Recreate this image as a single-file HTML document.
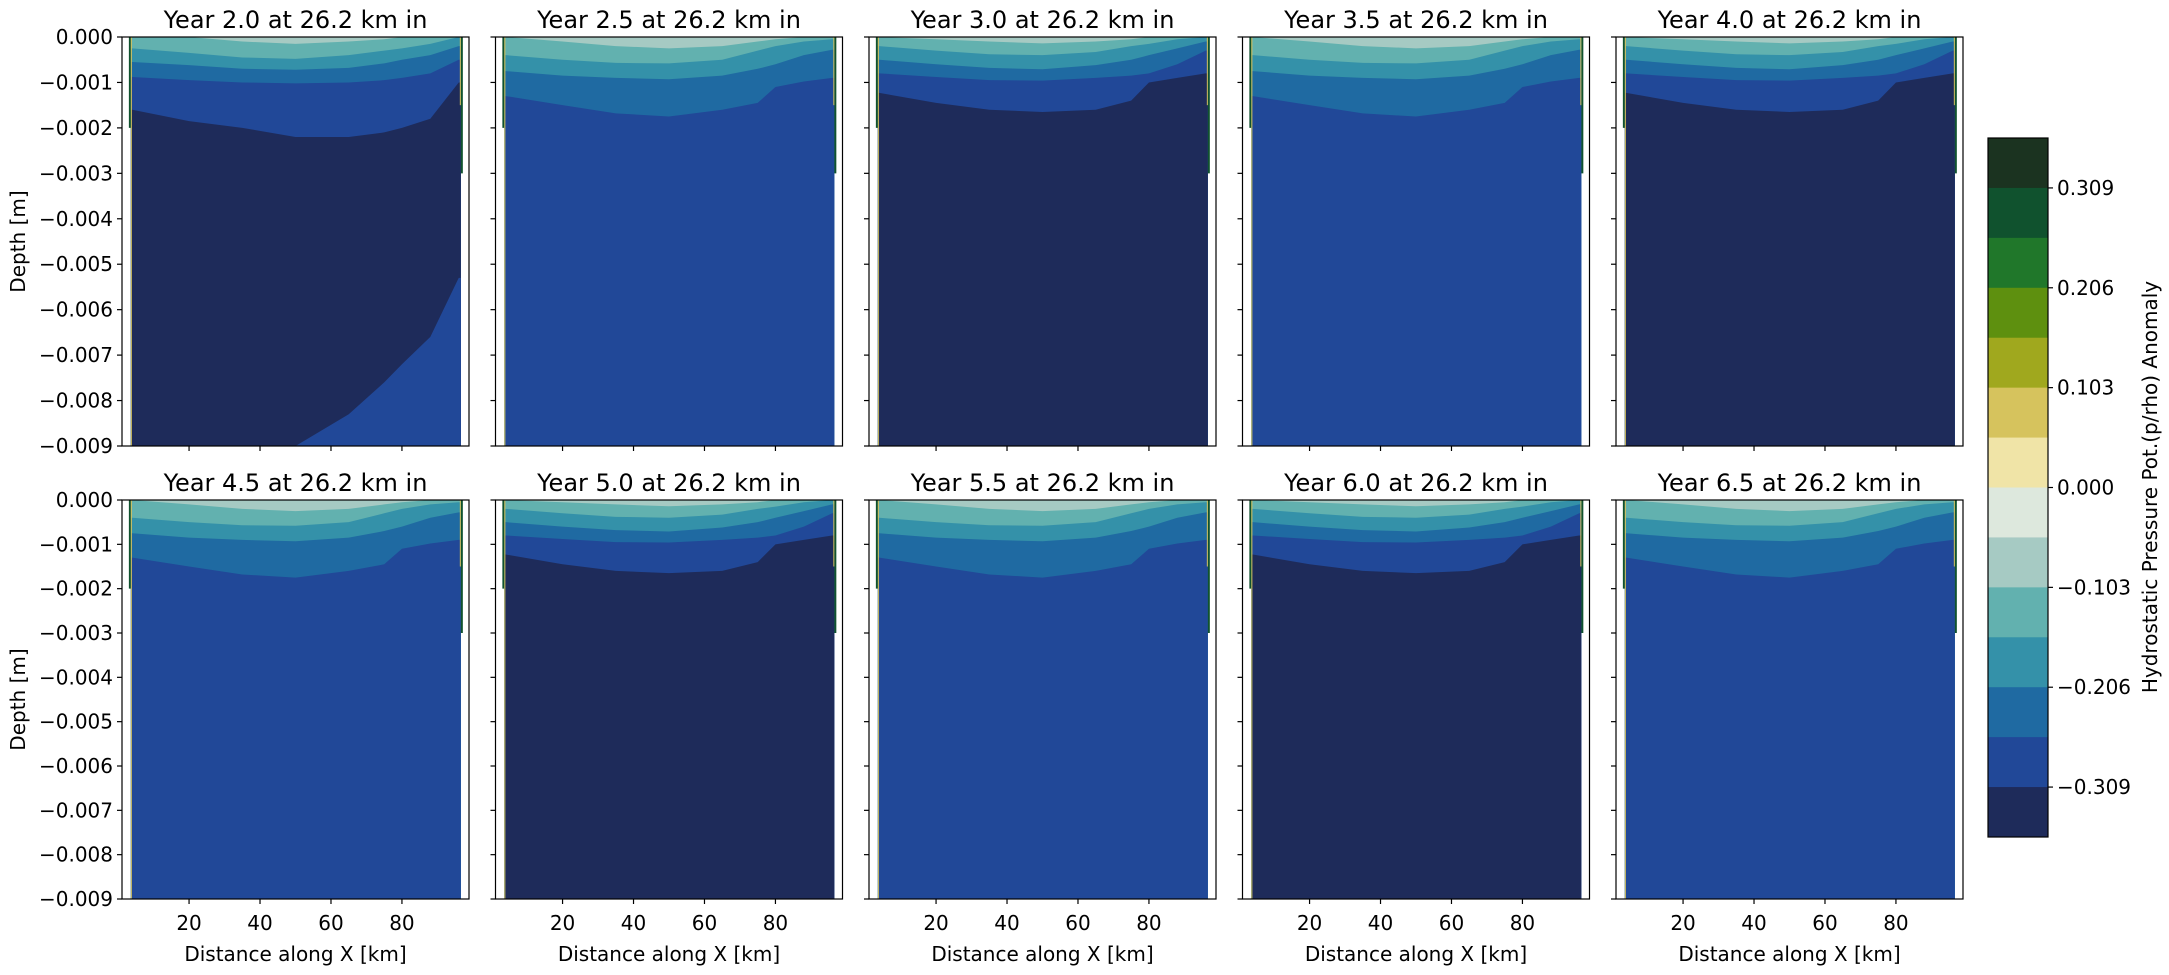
<!DOCTYPE html>
<html><head><meta charset="utf-8"><style>
html,body{margin:0;padding:0;background:#fff;}
svg{display:block;font-family:"DejaVu Sans","Liberation Sans",sans-serif;}
</style></head><body>
<svg id="fig" width="2169" height="975" viewBox="0 0 2169 975" xmlns="http://www.w3.org/2000/svg"></svg>
<script>
// ---- data ----
const years = ["2.0","2.5","3.0","3.5","4.0","4.5","5.0","5.5","6.0","6.5"];
const panelKind = ["y20","blue","dark","blue","dark","blue","dark","blue","dark","blue"];
const xSamples = [4, 20, 35, 50, 65, 75, 80, 88, 96];
const blueB1 = [0, 0.0001, 0.0002, 0.00025, 0.0002, 0.0001, 0.00005, 0, 0];
const blueB2 = [0.0004, 0.0005, 0.00057, 0.00058, 0.0005, 0.0003, 0.0002, 0.0001, 0.00005];
const blueB3 = [0.00075, 0.00085, 0.0009, 0.00093, 0.00085, 0.0007, 0.0006, 0.0004, 0.00028];
const blueB4 = [0.0013, 0.0015, 0.00168, 0.00175, 0.0016, 0.00145, 0.0011, 0.00098, 0.0009];
const darkB1 = [0, 0.00005, 0.0001, 0.00014, 0.0001, 0.00005, 0, 0, 0];
const darkB2 = [0.0002, 0.0003, 0.00038, 0.0004, 0.00033, 0.0002, 0.00015, 0.00005, 0];
const darkB3 = [0.0005, 0.0006, 0.00068, 0.00071, 0.00062, 0.0005, 0.0004, 0.00025, 0.0001];
const darkB4 = [0.0008, 0.00088, 0.00095, 0.00096, 0.0009, 0.00085, 0.0008, 0.0006, 0.0003];
const darkB5 = [0.00123, 0.00145, 0.0016, 0.00165, 0.0016, 0.0014, 0.001, 0.0009, 0.0008];
const y20B1 = [0, 0, 0.0001, 0.00015, 0.0001, 0.00005, 0, 0, 0];
const y20B2 = [0.00025, 0.00035, 0.00045, 0.00048, 0.0004, 0.0003, 0.00025, 0.00015, 0];
const y20B3 = [0.00055, 0.00062, 0.0007, 0.00072, 0.00068, 0.00058, 0.0005, 0.0004, 0.0002];
const y20B4 = [0.00088, 0.00095, 0.001, 0.00102, 0.001, 0.00095, 0.0009, 0.0008, 0.0005];
const y20B5 = [0.0016, 0.00185, 0.002, 0.0022, 0.0022, 0.0021, 0.002, 0.0018, 0.001];
const y20B6 = [0.0096, 0.0096, 0.0096, 0.0091, 0.0083, 0.0076, 0.0072, 0.0066, 0.0053];
const yTicks = [0, -0.001, -0.002, -0.003, -0.004, -0.005, -0.006, -0.007, -0.008, -0.009];
const xTicks = [20, 40, 60, 80];
const cbColors = ["#1b3320","#10522e","#20772a","#5e900f","#a0a81e","#d6c35d","#f0e4a7","#dde8dd","#a6cac3","#62b1af","#3491a9","#1f6aa2","#214898","#1e2b5a"];
const cbTicks = ["0.309","0.206","0.103","0.000","\u22120.103","\u22120.206","\u22120.309"];

const NS="http://www.w3.org/2000/svg";
const svg=document.getElementById('fig');
function mk(tag,attrs,parent){const e=document.createElementNS(NS,tag);for(const k in attrs)e.setAttribute(k,attrs[k]);(parent||svg).appendChild(e);return e;}

const lefts=[122,495.5,869,1242.5,1616], W=347;
const tops=[37,500], H=[409,399];
const xMin=1.1, xMax=98.9, dMax=0.009;
const layerColors=["#a6cac3","#62b1af","#3491a9","#1f6aa2","#214898","#1e2b5a"];
const sets={blue:[blueB1,blueB2,blueB3,blueB4],dark:[darkB1,darkB2,darkB3,darkB4,darkB5],y20:[y20B1,y20B2,y20B3,y20B4,y20B5]};

years.forEach((yr,i)=>{
  const r=Math.floor(i/5), c=i%5;
  const L=lefts[c], T=tops[r], h=H[r];
  const sx=v=>L+(v-xMin)/(xMax-xMin)*W;
  const sy=d=>T+Math.min(d,dMax)/dMax*h;
  const g=mk('g',{});
  
  
  const x0=3.6,x1=96.6;
  const bg=mk('rect',{x:sx(x0),y:T,width:sx(x1)-sx(x0),height:h,fill:layerColors[0]},g);
  
  
  const bs=sets[panelKind[i]];
  bs.forEach((b,k)=>{
    let pts=[[sx(x0),sy(b[0])]];
    xSamples.forEach((xv,j)=>pts.push([sx(xv),sy(b[j])]));
    pts.push([sx(x1),sy(b[b.length-1])],[sx(x1),T+h],[sx(x0),T+h]);
    const p=mk('polygon',{points:pts.map(q=>q.join(',')).join(' '),fill:layerColors[k+1]},g);
    
    
  });
  if(panelKind[i]==='y20'){
    let pts=xSamples.map((xv,j)=>[sx(xv),sy(y20B6[j])]);
    pts.push([sx(x1),sy(y20B6[8])],[sx(x1),T+h],[sx(xSamples[0]),T+h]);
    const p=mk('polygon',{points:pts.map(q=>q.join(',')).join(' '),fill:"#214898"},g);
    
    
  }
  mk('line',{x1:sx(x0)-1,y1:T,x2:sx(x0)-1,y2:sy(0.002),stroke:"#10522e","stroke-width":2},g);
  mk('line',{x1:sx(x0)+0.5,y1:T,x2:sx(x0)+0.5,y2:T+h,stroke:"#d6c35d","stroke-width":1},g);
  mk('line',{x1:sx(x1)+1,y1:T,x2:sx(x1)+1,y2:sy(0.003),stroke:"#10522e","stroke-width":2},g);
  mk('line',{x1:sx(x1)-0.5,y1:T,x2:sx(x1)-0.5,y2:sy(0.0015),stroke:"#d6c35d","stroke-width":1},g);
  const fr=mk('rect',{x:L,y:T,width:W,height:h,fill:"none",stroke:"#000","stroke-width":1.2},g);
  
  
  const t=mk('text',{x:L+W/2,y:T-9,"text-anchor":"middle","font-size":24},g);
  t.textContent='Year '+yr+' at 26.2 km in';
  
  
  yTicks.forEach(v=>{
    const y=sy(-v);
    mk('line',{x1:L-5,y1:y,x2:L,y2:y,stroke:"#000","stroke-width":1.2},g);
    if(c===0){
      const tl=mk('text',{x:L-9,y:y+7,"text-anchor":"end","font-size":20},g);
      tl.textContent=v===0?'0.000':'\u2212'+Math.abs(v).toFixed(3);
      
      
    }
  });
  xTicks.forEach(v=>{
    const x=sx(v);
    mk('line',{x1:x,y1:T+h,x2:x,y2:T+h+5,stroke:"#000","stroke-width":1.2},g);
    if(r===1){
      const tl=mk('text',{x:x,y:T+h+31,"text-anchor":"middle","font-size":20},g);
      tl.textContent=v;
      
      
    }
  });
  if(r===1){
    const xl=mk('text',{x:L+W/2,y:961,"text-anchor":"middle","font-size":20},g);
    xl.textContent='Distance along X [km]';
    
    
  }
  if(c===0){
    const cy=T+h/2;
    const yl=mk('text',{x:0,y:0,"text-anchor":"middle","font-size":20,transform:`translate(25,${cy}) rotate(-90)`},g);
    yl.textContent='Depth [m]';
    
    
  }
});

// colorbar
const cb=mk('g',{});


const cbX=1988,cbY=138,cbW=60,cbH=699,bh=cbH/cbColors.length;
cbColors.forEach((col,k)=>{
  const r=mk('rect',{x:cbX,y:cbY+k*bh,width:cbW,height:bh+0.5,fill:col},cb);
  
  
});
mk('rect',{x:cbX,y:cbY,width:cbW,height:cbH,fill:"none",stroke:"#000","stroke-width":1.2},cb);
cbTicks.forEach((lab,k)=>{
  const y=cbY+(2*k+1)*bh;
  mk('line',{x1:cbX+cbW,y1:y,x2:cbX+cbW+5,y2:y,stroke:"#000","stroke-width":1.2},cb);
  const tl=mk('text',{x:cbX+cbW+9,y:y+7,"font-size":20},cb);
  tl.textContent=lab;
  
  
});
const cl=mk('text',{x:0,y:0,"text-anchor":"middle","font-size":20,transform:"translate(2157,487) rotate(-90)"},cb);
cl.textContent='Hydrostatic Pressure Pot.(p/rho) Anomaly';


</script>
</body></html>
